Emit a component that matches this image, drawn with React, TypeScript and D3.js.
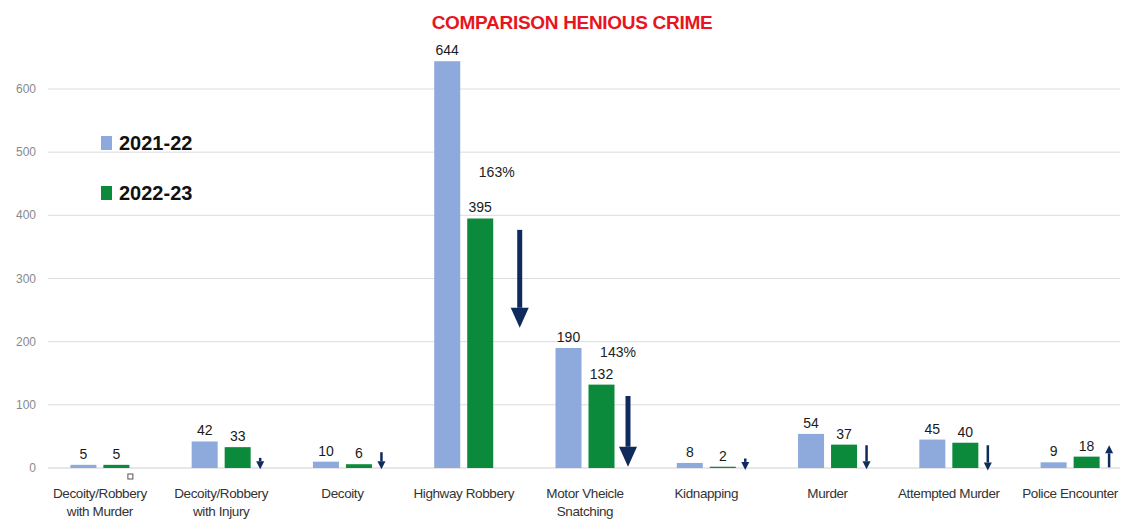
import React from "react";
import * as d3 from "d3";

const categories: string[][] = [
  ["Decoity/Robbery", "with Murder"],
  ["Decoity/Robbery", "with Injury"],
  ["Decoity"],
  ["Highway Robbery"],
  ["Motor Vheicle", "Snatching"],
  ["Kidnapping"],
  ["Murder"],
  ["Attempted Murder"],
  ["Police Encounter"],
];
const seriesNames = ["2021-22", "2022-23"];
const values2122 = [5, 42, 10, 644, 190, 8, 54, 45, 9];
const values2223 = [5, 33, 6, 395, 132, 2, 37, 40, 18];
const seriesColors = ["#8EA9DB", "#0B8A3C"];
const yTicks = [0, 100, 200, 300, 400, 500, 600];
const title = "COMPARISON HENIOUS CRIME";

// trend arrows: category index, start value, end value, big
const arrowCats = [1, 2, 3, 4, 5, 6, 7, 8];
const arrowFrom = [16, 25, 377, 114, 15, 36, 36, 1];
const arrowTo = [-2, -2, 222, 2, -3, -2, -4, 36];
const arrowBig = [false, false, true, true, false, false, false, false];

const pctCats = [3, 4];
const pctLabels = ["163%", "143%"];
const pctValues = [460, 176];

const W = 1123;
const H = 523;
const FONT = "'Liberation Sans', Arial, sans-serif";

export default function App() {
  const y = d3.scaleLinear().domain([0, 600]).range([468, 89]);
  const idx = categories.map((_, i) => String(i));
  const x = d3.scaleBand().domain(idx).range([39.25, 1130.75]).padding(0);
  const xc = (i: number) => (x(String(i)) as number) + x.bandwidth() / 2;
  const inner = d3.scaleBand().domain(seriesNames).range([-29.5, 29.5]).paddingInner(0.212);
  const series = [values2122, values2223];

  return (
    <svg width={W} height={H} style={{ position: "absolute", left: 0, top: 0, background: "#fff" }} fontFamily={FONT}>
      <rect width={W} height={H} fill="#fff" />
      {/* gridlines */}
      {yTicks.map((t) => (
        <g key={t}>
          <line x1={48} x2={1120} y1={y(t)} y2={y(t)} stroke={t === 0 ? "#cfcfcf" : "#dcdcdc"} strokeWidth={1} />
          <text x={36} y={y(t) + 4} fontSize={12} fill="#8a8a8a" textAnchor="end">{t}</text>
        </g>
      ))}
      {/* title */}
      <text x={572} y={29} textAnchor="middle" fontSize={19} fontWeight="bold" fill="#E8141E" letterSpacing={-0.3}>{title}</text>
      {/* bars */}
      {series.map((vals, s) =>
        vals.map((v, i) => {
          const bx = xc(i) + (inner(seriesNames[s]) as number);
          return (
            <g key={`${s}-${i}`}>
              <rect x={bx} y={y(v)} width={inner.bandwidth()} height={y(0) - y(v)} fill={seriesColors[s]} />
              <text x={bx + inner.bandwidth() / 2} y={y(v) - 6} textAnchor="middle" fontSize={14} fill="#1a1a1a">{v}</text>
            </g>
          );
        })
      )}
      {/* percent labels */}
      {pctCats.map((c, k) => (
        <text key={k} x={xc(c) + 33} y={y(pctValues[k])} textAnchor="middle" fontSize={14} fill="#222">{pctLabels[k]}</text>
      ))}
      {/* arrows */}
      {arrowCats.map((c, k) => {
        const big = arrowBig[k];
        const ax = xc(c) + (big ? (c === 3 ? 56 : 43) : 39);
        const y1 = y(arrowFrom[k]);
        const y2 = y(arrowTo[k]);
        const dir = y2 > y1 ? 1 : -1;
        const hl = big ? 20 : 8;
        const hw = big ? 9 : 4;
        const sw = big ? 5 : 2.5;
        return (
          <g key={k} fill="#0F2A5C" stroke="none">
            <line x1={ax} x2={ax} y1={y1} y2={y2 - dir * hl} stroke="#0F2A5C" strokeWidth={sw} />
            <path d={`M${ax - hw},${y2 - dir * hl} L${ax + hw},${y2 - dir * hl} L${ax},${y2} Z`} />
          </g>
        );
      })}
      {/* small square marker */}
      <rect x={xc(0) + 28} y={474} width={5} height={5} fill="#fff" stroke="#555" strokeWidth={1} />
      {/* category labels */}
      {categories.map((lines, i) => (
        <text key={i} x={xc(i)} textAnchor="middle" fontSize={13.5} fill="#333" letterSpacing={-0.4}>
          {lines.map((l, j) => (
            <tspan key={j} x={xc(i)} y={498 + j * 18}>{l}</tspan>
          ))}
        </text>
      ))}
      {/* legend */}
      {seriesNames.map((n, s) => (
        <g key={n}>
          <rect x={101} y={136 + s * 50} width={11} height={14} fill={seriesColors[s]} />
          <text x={119} y={150 + s * 50} fontSize={20} fontWeight="bold" fill="#111">{n}</text>
        </g>
      ))}
    </svg>
  );
}
